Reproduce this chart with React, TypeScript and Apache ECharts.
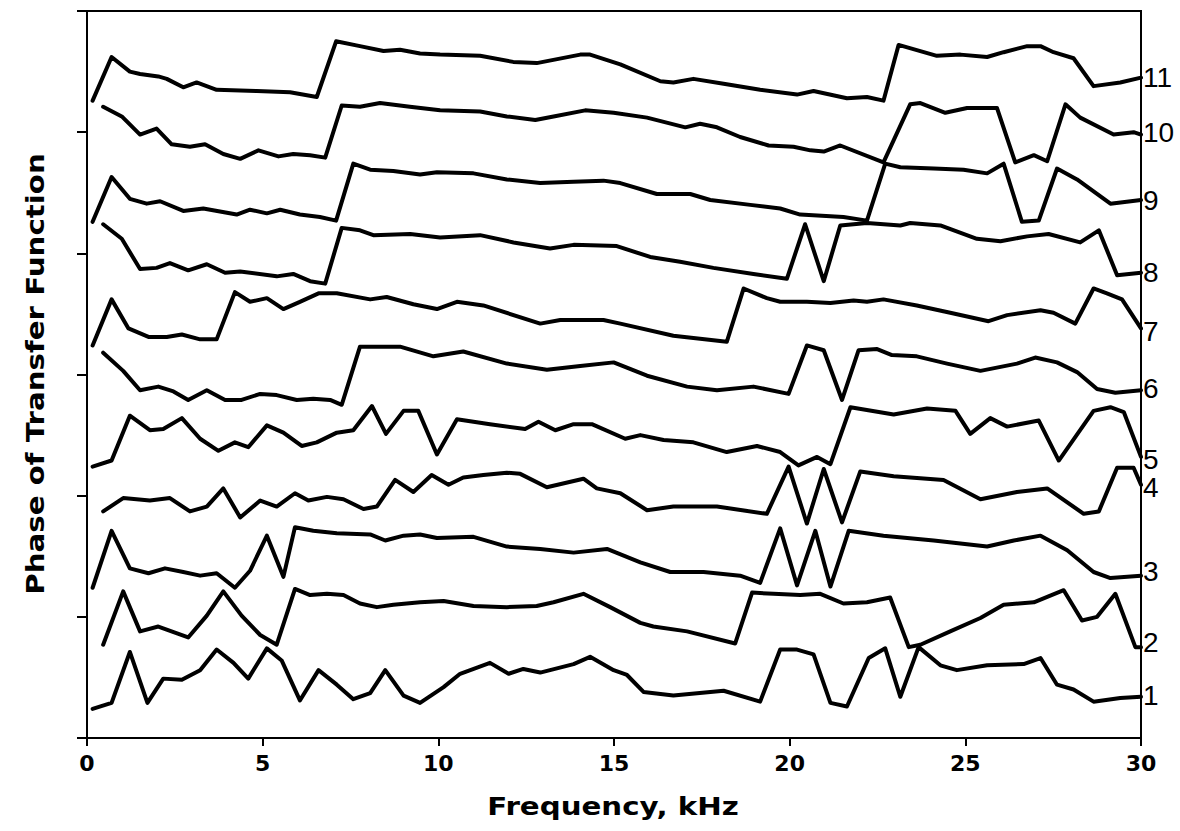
import React, { useEffect, useRef } from "react";
import * as echarts from "echarts";

// Phase curves, one per channel: [frequency kHz, phase (offset units)]
const phase1: [number, number][] = [[0.16,0.24],[0.70,0.29],[1.22,0.71],[1.72,0.29],[2.17,0.49],[2.70,0.48],[3.22,0.56],[3.69,0.73],[4.17,0.62],[4.59,0.49],[5.12,0.74],[5.54,0.64],[6.06,0.31],[6.59,0.56],[7.11,0.44],[7.58,0.32],[8.06,0.37],[8.49,0.56],[9.01,0.35],[9.48,0.29],[10.15,0.42],[10.62,0.53],[11.47,0.62],[12.00,0.53],[12.42,0.57],[12.90,0.54],[13.85,0.61],[14.32,0.67],[14.99,0.56],[15.37,0.52],[15.84,0.38],[16.69,0.35],[18.12,0.39],[19.16,0.30],[19.73,0.73],[20.21,0.73],[20.68,0.69],[21.16,0.29],[21.63,0.26],[22.25,0.66],[22.72,0.74],[23.15,0.34],[23.67,0.75],[24.29,0.60],[24.76,0.56],[25.62,0.60],[26.66,0.61],[27.14,0.66],[27.61,0.44],[28.08,0.40],[28.65,0.30],[29.41,0.33],[30.00,0.34]];
const phase2: [number, number][] = [[0.46,0.77],[1.03,1.21],[1.51,0.88],[2.03,0.92],[2.88,0.83],[3.41,1.01],[3.88,1.21],[4.40,1.01],[4.93,0.85],[5.40,0.77],[5.92,1.23],[6.35,1.18],[6.83,1.19],[7.30,1.18],[7.77,1.11],[8.25,1.08],[8.72,1.10],[9.48,1.12],[10.15,1.13],[11.00,1.09],[11.95,1.08],[12.80,1.09],[13.28,1.12],[14.13,1.19],[14.89,1.08],[15.75,0.95],[16.12,0.92],[17.08,0.88],[18.45,0.78],[18.93,1.20],[19.54,1.19],[20.30,1.18],[20.87,1.19],[21.53,1.11],[22.20,1.12],[22.86,1.16],[23.39,0.75],[23.72,0.77],[24.57,0.88],[25.43,0.99],[26.09,1.10],[26.95,1.12],[27.80,1.22],[28.32,0.97],[28.75,1.00],[29.27,1.19],[29.84,0.75],[30.00,0.75]];
const phase3: [number, number][] = [[0.16,1.24],[0.70,1.71],[1.22,1.40],[1.75,1.36],[2.22,1.40],[2.74,1.37],[3.22,1.34],[3.69,1.36],[4.21,1.24],[4.64,1.38],[5.12,1.67],[5.59,1.33],[5.92,1.74],[6.44,1.71],[7.11,1.69],[8.06,1.68],[8.49,1.63],[9.01,1.67],[9.48,1.68],[9.96,1.65],[11.00,1.66],[11.95,1.58],[12.90,1.56],[13.85,1.53],[14.80,1.56],[15.75,1.45],[16.60,1.37],[17.55,1.37],[18.59,1.34],[19.16,1.28],[19.73,1.73],[20.21,1.26],[20.73,1.71],[21.16,1.25],[21.68,1.71],[22.67,1.67],[24.10,1.63],[25.62,1.58],[26.38,1.63],[27.14,1.67],[27.90,1.55],[28.65,1.37],[29.13,1.32],[30.00,1.34]];
const phase4: [number, number][] = [[0.46,1.87],[1.03,1.98],[1.79,1.96],[2.36,1.98],[2.93,1.87],[3.41,1.91],[3.88,2.06],[4.36,1.82],[4.93,1.96],[5.40,1.91],[5.92,2.02],[6.30,1.96],[6.83,1.99],[7.30,1.97],[7.87,1.89],[8.25,1.91],[8.77,2.13],[9.29,2.03],[9.81,2.17],[10.29,2.09],[10.71,2.15],[11.28,2.17],[11.95,2.19],[12.33,2.18],[13.09,2.07],[14.13,2.14],[14.51,2.06],[15.18,2.02],[15.94,1.88],[16.69,1.91],[17.93,1.91],[19.35,1.85],[19.97,2.24],[20.49,1.77],[20.97,2.22],[21.49,1.78],[22.01,2.20],[22.96,2.16],[24.38,2.13],[25.43,1.97],[26.47,2.03],[27.33,2.06],[28.37,1.85],[28.80,1.87],[29.32,2.23],[29.79,2.23],[30.00,2.09]];
const phase5: [number, number][] = [[0.16,2.24],[0.70,2.29],[1.22,2.66],[1.79,2.54],[2.17,2.55],[2.70,2.64],[3.22,2.47],[3.74,2.37],[4.21,2.44],[4.59,2.40],[5.12,2.58],[5.59,2.52],[6.11,2.41],[6.54,2.44],[7.11,2.52],[7.58,2.54],[8.11,2.74],[8.51,2.51],[9.01,2.70],[9.43,2.70],[9.96,2.34],[10.53,2.63],[11.47,2.59],[12.47,2.55],[12.85,2.61],[13.33,2.54],[13.85,2.59],[14.37,2.59],[15.32,2.47],[15.75,2.50],[16.41,2.46],[17.26,2.44],[18.21,2.36],[19.07,2.41],[19.73,2.36],[20.25,2.25],[20.78,2.32],[21.16,2.26],[21.73,2.73],[22.96,2.67],[23.91,2.72],[24.72,2.70],[25.14,2.51],[25.71,2.64],[26.19,2.57],[27.09,2.62],[27.66,2.29],[28.65,2.70],[29.13,2.73],[29.51,2.69],[30.00,2.32]];
const phase6: [number, number][] = [[0.46,3.18],[1.03,3.03],[1.51,2.87],[2.03,2.90],[2.46,2.86],[2.88,2.79],[3.41,2.87],[3.93,2.79],[4.40,2.79],[4.93,2.84],[5.40,2.83],[5.97,2.79],[6.44,2.80],[6.92,2.79],[7.25,2.75],[7.77,3.23],[8.91,3.23],[9.86,3.15],[10.71,3.19],[11.95,3.09],[13.09,3.04],[14.04,3.07],[14.99,3.10],[15.94,2.99],[17.08,2.90],[17.93,2.87],[18.97,2.90],[19.97,2.84],[20.49,3.24],[20.97,3.20],[21.49,2.79],[21.96,3.20],[22.49,3.21],[22.91,3.16],[23.62,3.15],[24.48,3.09],[25.43,3.03],[26.47,3.09],[26.99,3.14],[27.61,3.10],[28.18,3.02],[28.75,2.88],[29.27,2.85],[30.00,2.87]];
const phase7: [number, number][] = [[0.16,3.24],[0.70,3.62],[1.18,3.38],[1.75,3.31],[2.27,3.31],[2.70,3.33],[3.22,3.29],[3.69,3.29],[4.21,3.68],[4.64,3.60],[5.12,3.63],[5.59,3.54],[6.06,3.60],[6.59,3.67],[7.11,3.67],[8.06,3.62],[8.53,3.64],[9.29,3.58],[9.96,3.54],[10.53,3.60],[11.28,3.57],[12.90,3.42],[13.47,3.45],[14.70,3.45],[15.18,3.42],[16.69,3.32],[18.21,3.27],[18.69,3.71],[19.35,3.63],[19.73,3.60],[20.49,3.60],[21.16,3.59],[21.82,3.61],[22.20,3.60],[22.67,3.62],[23.62,3.57],[24.57,3.51],[25.66,3.44],[26.19,3.49],[27.14,3.53],[27.51,3.51],[28.13,3.42],[28.65,3.71],[29.03,3.67],[29.46,3.62],[30.00,3.38]];
const phase8: [number, number][] = [[0.46,4.24],[0.99,4.12],[1.51,3.87],[1.98,3.88],[2.36,3.92],[2.88,3.86],[3.41,3.91],[3.93,3.84],[4.36,3.85],[5.40,3.81],[5.87,3.83],[6.35,3.77],[6.78,3.75],[7.25,4.21],[7.77,4.19],[8.15,4.15],[9.20,4.16],[10.05,4.13],[11.19,4.15],[12.14,4.09],[13.18,4.04],[13.85,4.07],[15.08,4.06],[16.03,3.97],[16.88,3.93],[17.83,3.88],[18.97,3.83],[19.92,3.79],[20.44,4.24],[20.97,3.77],[21.44,4.23],[22.20,4.25],[23.15,4.23],[23.43,4.25],[24.29,4.23],[25.33,4.12],[26.00,4.10],[26.76,4.14],[27.37,4.16],[28.27,4.09],[28.80,4.19],[29.32,3.82],[30.00,3.84]];
const phase9: [number, number][] = [[0.16,4.26],[0.70,4.63],[1.22,4.45],[1.70,4.41],[2.08,4.43],[2.74,4.35],[3.31,4.37],[4.26,4.32],[4.64,4.36],[5.12,4.33],[5.50,4.36],[6.06,4.32],[6.63,4.30],[7.09,4.27],[7.58,4.74],[8.06,4.69],[8.72,4.68],[9.48,4.65],[9.96,4.67],[11.00,4.66],[11.95,4.61],[12.90,4.58],[13.85,4.59],[14.70,4.60],[15.18,4.58],[16.22,4.49],[17.17,4.49],[17.74,4.44],[18.88,4.40],[19.73,4.37],[20.30,4.32],[21.53,4.30],[22.20,4.27],[22.72,4.74],[23.15,4.71],[24.10,4.70],[24.95,4.69],[25.62,4.66],[26.09,4.74],[26.61,4.26],[27.09,4.27],[27.61,4.70],[28.18,4.61],[29.13,4.41],[30.00,4.44]];
const phase10: [number, number][] = [[0.46,5.21],[0.99,5.13],[1.51,4.98],[1.98,5.03],[2.41,4.90],[2.93,4.88],[3.36,4.90],[3.88,4.82],[4.36,4.78],[4.88,4.85],[5.45,4.80],[5.87,4.82],[6.35,4.81],[6.78,4.79],[7.25,5.22],[7.77,5.21],[8.34,5.24],[9.19,5.21],[10.05,5.18],[11.19,5.17],[11.95,5.13],[12.76,5.10],[13.28,5.13],[14.18,5.18],[14.99,5.16],[15.94,5.12],[17.03,5.04],[17.45,5.07],[17.93,5.04],[18.59,4.96],[19.40,4.89],[20.11,4.88],[20.59,4.85],[20.97,4.84],[21.44,4.89],[22.67,4.75],[23.43,5.23],[23.72,5.24],[24.43,5.16],[25.05,5.20],[25.90,5.20],[26.42,4.75],[26.95,4.81],[27.33,4.76],[27.85,5.23],[28.27,5.12],[29.22,4.98],[29.79,5.00],[30.00,4.98]];
const phase11: [number, number][] = [[0.16,5.26],[0.70,5.62],[1.22,5.50],[1.51,5.48],[2.03,5.46],[2.27,5.44],[2.74,5.37],[3.12,5.41],[3.69,5.35],[4.83,5.34],[5.78,5.33],[6.54,5.29],[7.09,5.75],[7.77,5.71],[8.44,5.67],[8.91,5.68],[9.48,5.65],[10.05,5.64],[11.19,5.63],[12.13,5.58],[12.80,5.57],[14.04,5.64],[14.32,5.64],[15.18,5.56],[16.32,5.42],[16.69,5.41],[17.26,5.44],[18.12,5.40],[19.16,5.35],[20.21,5.31],[20.68,5.34],[21.63,5.28],[22.20,5.29],[22.67,5.26],[23.10,5.72],[24.19,5.63],[24.86,5.64],[25.62,5.62],[26.09,5.66],[26.76,5.71],[27.14,5.71],[27.51,5.66],[28.08,5.61],[28.65,5.38],[29.41,5.41],[30.00,5.45]];

const curveNames = ["1", "2", "3", "4", "5", "6", "7", "8", "9", "10", "11"];
const curves = [phase1, phase2, phase3, phase4, phase5, phase6, phase7, phase8, phase9, phase10, phase11];

// Vertical nudge (px) of each end label so neighbouring numbers do not collide
const labelNudge = [-1, -5, -4, 3, 3, -2, 3, 0, 0, -2, 0];

const xTitle = "Frequency, kHz";
const yTitle = "Phase of Transfer Function";

const TITLE_FONT = "DejaVu Sans";

export default function App() {
  const ref = useRef<HTMLDivElement>(null);

  useEffect(() => {
    if (!ref.current) return;
    const chart = echarts.init(ref.current, undefined, { renderer: "svg" });

    const series = curves.map((data, i) => ({
      name: curveNames[i],
      type: "line",
      data,
      showSymbol: false,
      symbol: "none",
      silent: true,
      lineStyle: { color: "#000", width: 4, join: "round", cap: "round" },
      itemStyle: { color: "#000" },
      endLabel: {
        show: true,
        formatter: "{a}",
        color: "#000",
        fontFamily: "Liberation Sans, Arial, sans-serif",
        fontSize: 28,
        distance: 2,
        offset: [0, labelNudge[i]],
      },
    }));

    chart.setOption({
      animation: false,
      backgroundColor: "#fff",
      grid: {
        left: 87,
        right: 39,
        top: 11,
        bottom: 93,
        show: true,
        borderColor: "#000",
        borderWidth: 2,
        backgroundColor: "transparent",
      },
      xAxis: {
        type: "value",
        min: 0,
        max: 30,
        interval: 5,
        axisLine: { show: true, onZero: false, lineStyle: { color: "#000", width: 2 } },
        axisTick: { show: true, inside: false, length: 8, lineStyle: { color: "#000", width: 2 } },
        axisLabel: {
          color: "#000",
          fontFamily: TITLE_FONT,
          fontWeight: "bold",
          fontSize: 22,
          margin: 14,
        },
        splitLine: { show: false },
      },
      yAxis: {
        type: "value",
        min: 0,
        max: 6,
        interval: 1,
        axisLine: { show: true, onZero: false, lineStyle: { color: "#000", width: 2 } },
        axisTick: { show: true, inside: false, length: 10, lineStyle: { color: "#000", width: 2 } },
        axisLabel: { show: false },
        splitLine: { show: false },
      },
      graphic: [
        {
          type: "text",
          x: 613,
          y: 806,
          scaleX: 1.22,
          style: {
            text: xTitle,
            fill: "#000",
            fontFamily: TITLE_FONT,
            fontWeight: "bold",
            fontSize: 24,
            textAlign: "center",
            textVerticalAlign: "middle",
          },
        },
        {
          type: "text",
          x: 35,
          y: 374,
          rotation: Math.PI / 2,
          scaleX: 1.22,
          style: {
            text: yTitle,
            fill: "#000",
            fontFamily: TITLE_FONT,
            fontWeight: "bold",
            fontSize: 24,
            textAlign: "center",
            textVerticalAlign: "middle",
          },
        },
      ],
      series,
    });

    return () => chart.dispose();
  }, []);

  return (
    <div
      ref={ref}
      style={{ position: "fixed", left: 0, top: 0, width: 1180, height: 831, background: "#fff" }}
    />
  );
}
